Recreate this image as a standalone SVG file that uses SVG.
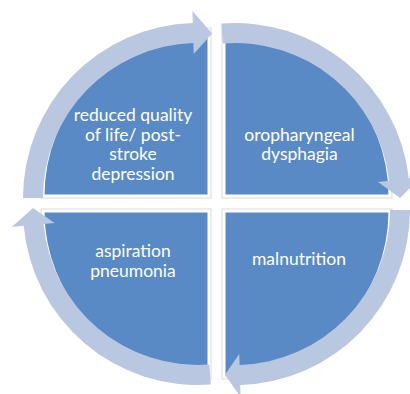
<svg xmlns="http://www.w3.org/2000/svg" width="410" height="394" viewBox="0 0 410 394">
<style>
.bg{fill:#ffffff}
.pie-o{fill:none;stroke:#dadada;stroke-width:5;stroke-linejoin:miter}
.pie{fill:#5A8AC6;stroke:#ffffff;stroke-width:3;stroke-linejoin:miter}
.arrow{fill:#B9C8E0}
.lbl{font-family:Lato,"Open Sans","Liberation Sans",sans-serif;font-size:17.5px;fill:#ffffff;text-anchor:middle}
</style>
<rect class="bg" x="0" y="0" width="410" height="394"/>
<g id="node-tl">
<path class="pie-o" d="M209,196 L43,196 A166,166 0 0 1 209,30 Z"/>
<path class="pie" d="M209,196 L43,196 A166,166 0 0 1 209,30 Z"/>
</g>
<g id="node-tr">
<path class="pie-o" d="M224,196 L224,30 A166,166 0 0 1 390,196 Z"/>
<path class="pie" d="M224,196 L224,30 A166,166 0 0 1 390,196 Z"/>
</g>
<g id="node-br">
<path class="pie-o" d="M224,211 L390,211 A166,166 0 0 1 224,377 Z"/>
<path class="pie" d="M224,211 L390,211 A166,166 0 0 1 224,377 Z"/>
</g>
<g id="node-bl">
<path class="pie-o" d="M209,211 L209,377 A166,166 0 0 1 43,211 Z"/>
<path class="pie" d="M209,211 L209,377 A166,166 0 0 1 43,211 Z"/>
</g>
<g id="connectors">
<path class="arrow" d="M23,198 A175,175 0 0 1 192.81,23.08 L192.45,11.08 L212.09,33.6 L193.73,54.06 L193.4,43.07 A155,155 0 0 0 43,198 Z"/>
<path class="arrow" d="M221.27,23.54 A175,175 0 0 1 408.91,178.49 L420.83,177.16 L400,198 L378.1,181.95 L389.03,180.72 A155,155 0 0 0 222.84,43.48 Z"/>
<path class="arrow" d="M410,210 A175,175 0 0 1 240.19,384.92 L240.55,396.92 L224.93,374.69 L239.27,353.94 L239.6,364.93 A155,155 0 0 0 390,210 Z"/>
<path class="arrow" d="M210.82,384.53 A175,175 0 0 1 23.72,225.86 L11.77,226.95 L33.01,207.98 L54.59,223.05 L43.64,224.05 A155,155 0 0 0 209.35,364.58 Z"/>
</g>
<g id="labels">
<text class="lbl" x="133" y="120.5">reduced quality</text>
<text class="lbl" x="133" y="140.5">of life/ post-</text>
<text class="lbl" x="133" y="160">stroke</text>
<text class="lbl" x="133" y="179.5">depression</text>
<text class="lbl" x="299.5" y="140.5">oropharyngeal</text>
<text class="lbl" x="299.5" y="160">dysphagia</text>
<text class="lbl" x="299" y="265">malnutrition</text>
<text class="lbl" x="133" y="256.5">aspiration</text>
<text class="lbl" x="133" y="276.5">pneumonia</text>
</g>
</svg>
